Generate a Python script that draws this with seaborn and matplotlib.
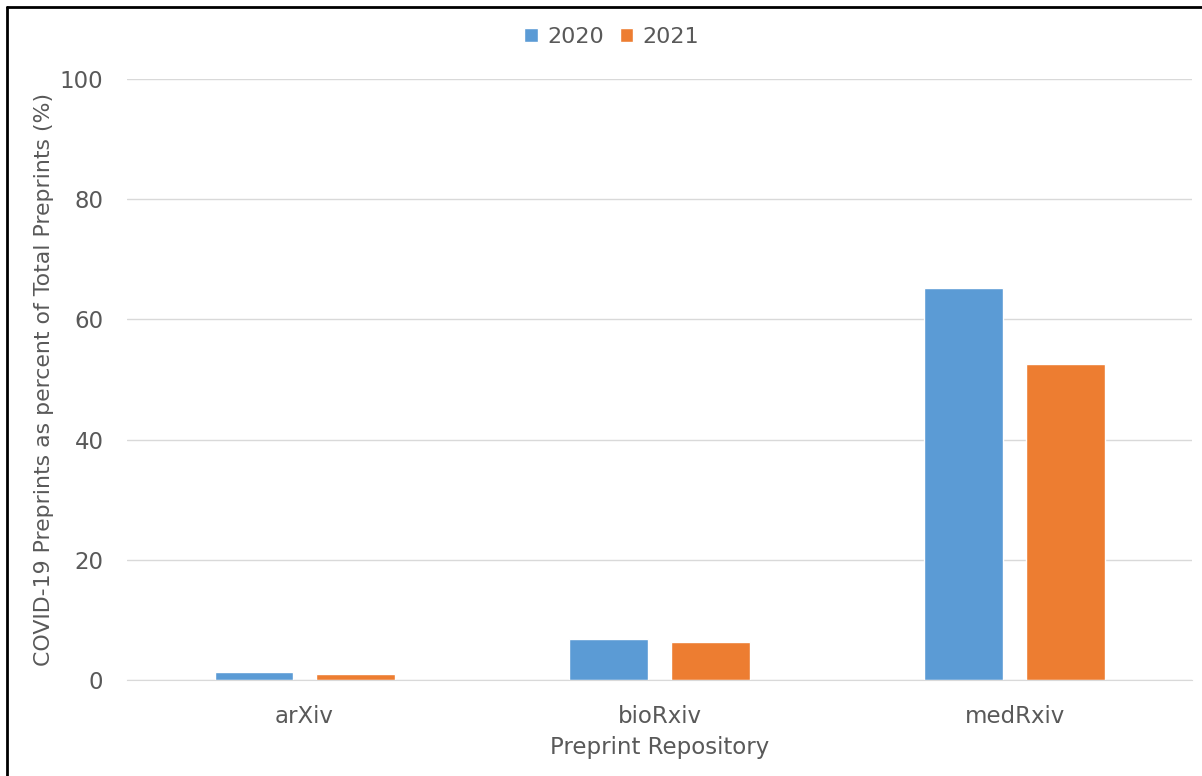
import pandas as pd
import seaborn as sns
from matplotlib import pyplot as plt
from matplotlib.lines import Line2D

repositories = ["arXiv", "bioRxiv", "medRxiv"]
years = ["2020", "2021"]
pct_2020 = [1.3, 6.8, 65.3]
pct_2021 = [1.0, 6.4, 52.5]

table = pd.DataFrame({
    "repo": repositories * 2,
    "year": [years[0]] * 3 + [years[1]] * 3,
    "pct": pct_2020 + pct_2021,
})

sns.set_style("white")
plt.rcParams["font.family"] = ["DejaVu Sans"]
grey = "#595959"
fs = 16.5

fig = plt.figure(figsize=(12.02, 7.76), dpi=100)
ax = fig.add_axes([0.1057, 0.1237, 0.886, 0.7745])

sns.barplot(data=table, x="repo", y="pct", hue="year", hue_order=years,
            palette=["#5B9BD5", "#ED7D31"], width=0.57, gap=0.22,
            saturation=1, ax=ax, legend=True)

ax.set_ylim(0, 100)
ax.set_xlim(-0.5, 2.5)
ax.set_yticks([0, 20, 40, 60, 80, 100])
ax.yaxis.grid(True, color="#d9d9d9", linewidth=1)
ax.set_axisbelow(True)
for s in ["top", "right", "left"]:
    ax.spines[s].set_visible(False)
ax.spines["bottom"].set_color("#d9d9d9")
ax.tick_params(axis="both", length=0, labelsize=fs, labelcolor=grey)
ax.tick_params(axis="y", pad=17)
ax.tick_params(axis="x", pad=18)

ax.set_xlabel("Preprint Repository", fontsize=fs, color=grey, labelpad=6)
ax.set_ylabel("COVID-19 Preprints as percent of Total Preprints (%)",
              fontsize=15.8, color=grey, labelpad=4)

leg = ax.legend(loc="center", bbox_to_anchor=(0.455, 1.07), ncol=2,
                frameon=False, fontsize=16, handlelength=0.6, handleheight=0.6,
                handletextpad=0.42, columnspacing=0.72, borderaxespad=0)
for t in leg.get_texts():
    t.set_color(grey)

# screenshot frame (top and left edges)
fig.add_artist(Line2D([0.006, 0.006], [0, 0.991], transform=fig.transFigure,
                      color="black", linewidth=2))
fig.add_artist(Line2D([0.006, 1.0], [0.991, 0.991], transform=fig.transFigure,
                      color="black", linewidth=2))

fig.savefig("out.png", dpi=100)
